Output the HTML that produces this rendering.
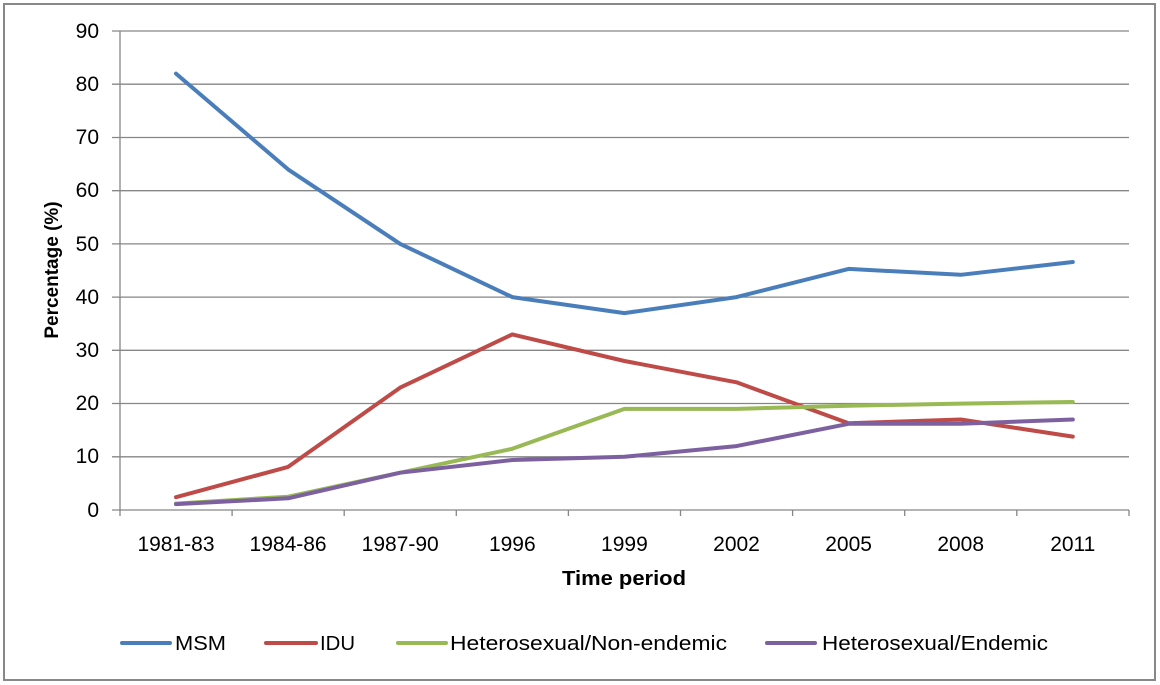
<!DOCTYPE html>
<html><head><meta charset="utf-8"><style>html,body{margin:0;padding:0;background:#fff}svg{display:block}text{font-family:"Liberation Sans",sans-serif;fill:#000}</style></head><body>
<svg width="1160" height="685" viewBox="0 0 1160 685">
<rect x="4" y="4" width="1151" height="676" fill="#fff" stroke="#888" stroke-width="2"/>
<g stroke="#868686" stroke-width="1.3">
<line x1="112" y1="31" x2="1129" y2="31"/><line x1="112" y1="84.2" x2="1129" y2="84.2"/><line x1="112" y1="137.5" x2="1129" y2="137.5"/><line x1="112" y1="190.7" x2="1129" y2="190.7"/><line x1="112" y1="243.9" x2="1129" y2="243.9"/><line x1="112" y1="297.1" x2="1129" y2="297.1"/><line x1="112" y1="350.3" x2="1129" y2="350.3"/><line x1="112" y1="403.5" x2="1129" y2="403.5"/><line x1="112" y1="456.8" x2="1129" y2="456.8"/><line x1="112" y1="510" x2="1129" y2="510"/>
<line x1="120" y1="31" x2="120" y2="516"/>
<line x1="232.1" y1="510" x2="232.1" y2="516"/><line x1="344.2" y1="510" x2="344.2" y2="516"/><line x1="456.3" y1="510" x2="456.3" y2="516"/><line x1="568.4" y1="510" x2="568.4" y2="516"/><line x1="680.5" y1="510" x2="680.5" y2="516"/><line x1="792.6" y1="510" x2="792.6" y2="516"/><line x1="904.7" y1="510" x2="904.7" y2="516"/><line x1="1016.8" y1="510" x2="1016.8" y2="516"/><line x1="1129" y1="510" x2="1129" y2="516"/>
</g>
<g font-size="21" text-anchor="end">
<text x="99" y="38">90</text><text x="99" y="91">80</text><text x="99" y="144">70</text><text x="99" y="197">60</text><text x="99" y="251">50</text><text x="99" y="304">40</text><text x="99" y="357">30</text><text x="99" y="410">20</text><text x="99" y="463">10</text><text x="99" y="517">0</text>
</g>
<g font-size="21" text-anchor="middle">
<text x="176" y="551">1981-83</text><text x="288.1" y="551">1984-86</text><text x="400.2" y="551">1987-90</text><text x="512.3" y="551">1996</text><text x="624.4" y="551">1999</text><text x="736.5" y="551">2002</text><text x="848.6" y="551">2005</text><text x="960.7" y="551">2008</text><text x="1072.8" y="551">2011</text>
</g>
<text x="562" y="585" font-size="20" font-weight="bold" textLength="124" lengthAdjust="spacingAndGlyphs">Time period</text>
<text transform="translate(58,270) rotate(-90)" font-size="19" font-weight="bold" text-anchor="middle">Percentage (%)</text>
<g fill="none" stroke-width="4" stroke-linejoin="round" stroke-linecap="round">
<polyline stroke="#4a7ebb" points="176,73.6 288.1,169.4 400.2,243.9 512.3,297.1 624.4,313.1 736.5,297.1 848.6,268.9 960.7,274.8 1072.8,262"/>
<polyline stroke="#be4b48" points="176,497.2 288.1,466.9 400.2,387.6 512.3,334.4 624.4,361 736.5,382.3 848.6,423.2 960.7,419.5 1072.8,436.6"/>
<polyline stroke="#98b954" points="176,503.6 288.1,496.7 400.2,472.7 512.3,448.8 624.4,408.9 736.5,408.9 848.6,405.7 960.7,403.6 1072.8,402"/>
<polyline stroke="#7d60a0" points="176,504.1 288.1,498.3 400.2,472.7 512.3,460 624.4,456.8 736.5,446.1 848.6,423.8 960.7,423.8 1072.8,419.5"/>
</g>
<g stroke-width="4" stroke-linecap="round">
<line x1="122" y1="643" x2="170" y2="643" stroke="#4a7ebb"/>
<line x1="266" y1="643" x2="316" y2="643" stroke="#be4b48"/>
<line x1="398" y1="643" x2="446" y2="643" stroke="#98b954"/>
<line x1="767" y1="643" x2="815" y2="643" stroke="#7d60a0"/>
</g>
<g font-size="20">
<text x="175" y="650" textLength="51" lengthAdjust="spacingAndGlyphs">MSM</text>
<text x="320" y="650" textLength="35" lengthAdjust="spacingAndGlyphs">IDU</text>
<text x="450" y="650" textLength="277" lengthAdjust="spacingAndGlyphs">Heterosexual/Non-endemic</text>
<text x="822" y="650" textLength="226" lengthAdjust="spacingAndGlyphs">Heterosexual/Endemic</text>
</g>
</svg>
</body></html>
